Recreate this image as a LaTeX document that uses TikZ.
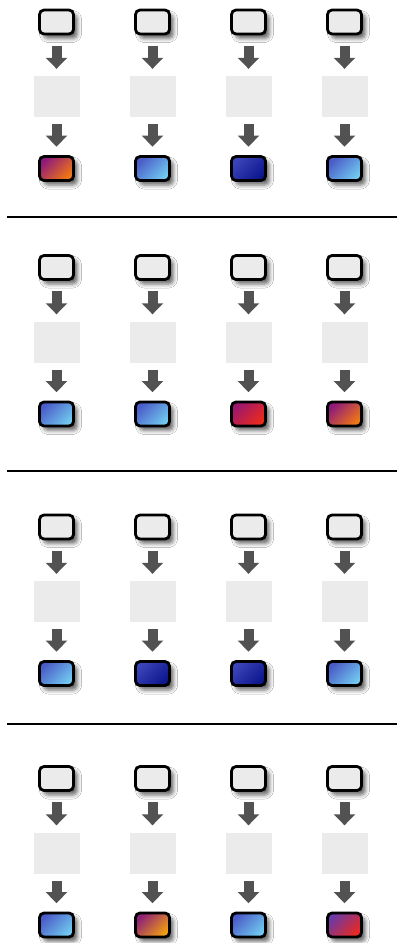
\documentclass[tikz,border=0pt]{standalone}
\usetikzlibrary{shadows.blur,arrows.meta}
\definecolor{boxgray}{HTML}{EBEBEB}
\definecolor{arrowgray}{HTML}{525252}
\definecolor{lbA}{HTML}{4A5CC8}
\definecolor{lbB}{HTML}{72CAF0}
\definecolor{dbA}{HTML}{3C44B8}
\definecolor{dbB}{HTML}{0C168E}
\definecolor{poA}{HTML}{8E1A7C}
\definecolor{poB}{HTML}{F27812}
\definecolor{prA}{HTML}{9A1870}
\definecolor{prB}{HTML}{EE2A1A}
\definecolor{pyA}{HTML}{8E2078}
\definecolor{pyB}{HTML}{F2A010}
\definecolor{vrA}{HTML}{6A3AA6}
\definecolor{vrB}{HTML}{EA2820}
\newcommand\cardrow[3]{%
  \foreach \cx/\c/\ga/\gb in {#3} {
    \node[topcard] (t#2\c) at (\cx,#1) {};
    \node[slot] (s#2\c) at (\cx,#1+74.5) {};
    \node[card, top color=\ga, bottom color=\gb, shading angle=45] (b#2\c) at (\cx,#1+146.5) {};
    \draw[flow] ([yshift=-10.5pt]t#2\c.south) -- ([yshift=7pt]s#2\c.north);
    \draw[flow] ([yshift=-7pt]s#2\c.south) -- ([yshift=8.5pt]b#2\c.north);
  }%
}
\begin{document}
\begin{tikzpicture}[x=1pt,y=-1pt,
  card/.style={draw=black, line width=2.8pt, rounded corners=4.5pt,
    minimum width=34pt, minimum height=24pt, inner sep=0pt,
    blur shadow={shadow xshift=4pt, shadow yshift=-4.5pt, shadow blur radius=4pt, shadow opacity=60}},
  topcard/.style={card, fill=boxgray},
  slot/.style={fill=boxgray, minimum width=46pt, minimum height=41pt, inner sep=0pt},
  flow/.style={draw=arrowgray, line width=10pt, -{Triangle[width=21pt,length=11pt]}},
  sep/.style={draw=black, line width=2.2pt}]
\path[use as bounding box, fill=white] (0,0) rectangle (397,943);

\cardrow{22}{1}{56.5/1/poA/poB, 152.5/2/lbA/lbB, 248.5/3/dbA/dbB, 344.5/4/lbA/lbB}
\cardrow{267.5}{2}{56.5/1/lbA/lbB, 152.5/2/lbA/lbB, 248.5/3/prA/prB, 344.5/4/poA/poB}
\cardrow{527}{3}{56.5/1/lbA/lbB, 152.5/2/dbA/dbB, 248.5/3/dbA/dbB, 344.5/4/lbA/lbB}
\cardrow{778.5}{4}{56.5/1/lbA/lbB, 152.5/2/pyA/pyB, 248.5/3/lbA/lbB, 344.5/4/vrA/vrB}

\coordinate (l1a) at (7,217);  \coordinate (l1b) at (397,217);
\coordinate (l2a) at (7,471);  \coordinate (l2b) at (397,471);
\coordinate (l3a) at (7,724);  \coordinate (l3b) at (397,724);
\draw[sep] (l1a) -- (l1b);
\draw[sep] (l2a) -- (l2b);
\draw[sep] (l3a) -- (l3b);
\end{tikzpicture}
\end{document}
